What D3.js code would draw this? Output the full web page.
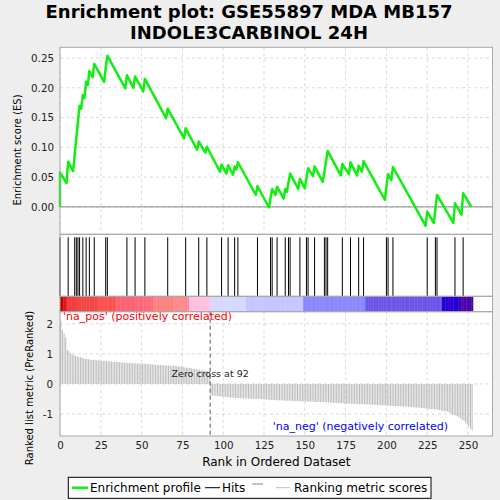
<!DOCTYPE html>
<html><head><meta charset="utf-8">
<script src="https://cdn.jsdelivr.net/npm/d3@7"></script>
<style>html,body{margin:0;padding:0;background:#eeeeee;} svg{display:block;font-family:"DejaVu Sans",sans-serif;}</style>
</head><body>
<svg id="chart" width="500" height="500"></svg>
<script>
const titleLines = ["Enrichment plot: GSE55897 MDA MB157", "INDOLE3CARBINOL 24H"];
const xTicks = [0, 25, 50, 75, 100, 125, 150, 175, 200, 225, 250];
const esTicks = [0, 0.05, 0.10, 0.15, 0.20, 0.25];
const metricTicks = [-1, 0, 1, 2];
const zeroCross = 92;
const hitRanks = [0,5,9,10,11,12,14,16,18,21,28,29,41,46,52,66,77,85,90,99,103,107,109,121,129,130,133,138,140,141,147,151,152,156,162,163,164,173,178,183,186,200,201,204,225,230,231,242,247];
const esRanks = [0,0,4,5,8,9,10,11,12,13,14,15,16,17,18,20,21,27,28,29,40,41,45,46,51,52,65,66,76,77,84,85,89,90,98,99,102,103,106,107,108,109,120,121,128,129,130,132,133,137,138,139,140,141,146,147,150,151,152,155,156,161,162,163,164,172,173,177,178,182,183,185,186,199,200,201,203,204,224,225,229,230,231,241,242,246,247,252];
const esValues = [0,0.058,0.040,0.076,0.060,0.088,0.115,0.143,0.170,0.165,0.188,0.183,0.210,0.205,0.228,0.218,0.240,0.210,0.232,0.254,0.199,0.221,0.200,0.219,0.194,0.215,0.149,0.165,0.115,0.132,0.096,0.110,0.091,0.101,0.059,0.071,0.056,0.070,0.054,0.068,0.063,0.075,0.020,0.035,-0.001,0.015,0.030,0.020,0.034,0.014,0.030,0.025,0.041,0.056,0.030,0.047,0.031,0.048,0.065,0.052,0.068,0.042,0.059,0.076,0.094,0.053,0.072,0.055,0.075,0.053,0.069,0.059,0.077,0.012,0.034,0.055,0.045,0.067,-0.032,-0.008,-0.027,-0.004,0.020,-0.027,0.006,-0.013,0.023,0.000];
const metricValues = [
2.10,1.78,1.68,1.55,1.13,1.08,1.02,0.98,0.95,0.93,
0.91,0.90,0.89,0.87,0.85,0.84,0.83,0.82,0.81,0.80,
0.80,0.79,0.79,0.78,0.78,0.77,0.77,0.76,0.76,0.75,
0.75,0.74,0.74,0.73,0.73,0.72,0.72,0.71,0.71,0.71,
0.70,0.70,0.70,0.69,0.69,0.69,0.69,0.68,0.68,0.68,
0.68,0.67,0.67,0.66,0.66,0.65,0.65,0.64,0.64,0.63,
0.63,0.63,0.62,0.62,0.62,0.61,0.61,0.61,0.60,0.60,
0.60,0.59,0.58,0.58,0.57,0.56,0.55,0.54,0.54,0.53,
0.52,0.51,0.50,0.49,0.48,0.47,0.46,0.45,0.44,0.43,
0.42,0.41,-0.38,-0.39,-0.39,-0.40,-0.40,-0.41,-0.41,-0.42,
-0.42,-0.43,-0.44,-0.44,-0.45,-0.45,-0.46,-0.46,-0.47,-0.47,
-0.47,-0.48,-0.48,-0.48,-0.48,-0.49,-0.49,-0.49,-0.49,-0.50,
-0.50,-0.50,-0.51,-0.51,-0.51,-0.52,-0.52,-0.52,-0.53,-0.53,
-0.53,-0.54,-0.54,-0.54,-0.55,-0.55,-0.55,-0.55,-0.56,-0.56,
-0.56,-0.56,-0.57,-0.57,-0.57,-0.57,-0.58,-0.58,-0.58,-0.58,
-0.58,-0.59,-0.59,-0.59,-0.59,-0.59,-0.60,-0.60,-0.60,-0.60,
-0.60,-0.61,-0.61,-0.61,-0.62,-0.62,-0.62,-0.63,-0.63,-0.63,
-0.64,-0.64,-0.64,-0.64,-0.65,-0.65,-0.65,-0.65,-0.66,-0.66,
-0.66,-0.66,-0.67,-0.67,-0.67,-0.67,-0.68,-0.68,-0.68,-0.68,
-0.69,-0.69,-0.69,-0.70,-0.70,-0.70,-0.71,-0.71,-0.71,-0.72,
-0.72,-0.72,-0.73,-0.73,-0.73,-0.74,-0.74,-0.74,-0.74,-0.75,
-0.75,-0.75,-0.75,-0.76,-0.76,-0.77,-0.77,-0.78,-0.78,-0.79,
-0.79,-0.80,-0.80,-0.81,-0.81,-0.82,-0.83,-0.83,-0.84,-0.85,
-0.85,-0.86,-0.87,-0.88,-0.89,-0.90,-0.91,-0.92,-0.95,-0.98,
-1.01,-1.03,-1.05,-1.08,-1.11,-1.15,-1.19,-1.23,-1.28,-1.35,
-1.41,-1.48,-1.55];
const bandStarts = [0,2,4,11,23,34,46,57,69,79,92,114,149,187,234,245];
const bandColors = ["#c80000","#e01818","#f03c3c","#f24646","#ff5050","#ff6072","#ff6878","#ff8080","#ff8a8a","#ffc0e2","#d8d8fe","#c8c4ff","#8888ff","#6a56ea","#2600d0","#4a06a8"];
const legendItems = ["Enrichment profile", "Hits", "Ranking metric scores"];

const svg = d3.select("#chart");
const L = 60, R = 492.5;
const topY0 = 47.3, topY1 = 234.3, hitY1 = 296.3, barY1 = 311.7, botY1 = 436;
const N = metricValues.length;

const x = d3.scaleLinear().domain([0, 265]).range([L, R]);
const yES = d3.scaleLinear().domain([-0.046, 0.268]).range([topY1, topY0]);
const yM = d3.scaleLinear().domain([-1.73, 2.4]).range([botY1, barY1]);

// background panels
svg.append("rect").attr("width", 500).attr("height", 500).attr("fill", "#eeeeee");
svg.append("rect").attr("x", L).attr("y", topY0).attr("width", R - L).attr("height", botY1 - topY0).attr("fill", "#ffffff");

// title
svg.append("g").selectAll("text").data(titleLines).join("text")
  .attr("x", 249).attr("y", (d, i) => 18 + i * 21)
  .attr("text-anchor", "middle").attr("font-size", 18).attr("font-weight", "bold").attr("fill", "#000")
  .text(d => d);

const gridColor = "#d9d9d9";
// top grid
const gTop = svg.append("g");
gTop.selectAll("line.v").data(xTicks).join("line").attr("class", "v")
  .attr("x1", d => x(d)).attr("x2", d => x(d)).attr("y1", topY0).attr("y2", topY1)
  .attr("stroke", gridColor).attr("stroke-dasharray", "3,3");
gTop.selectAll("line.h").data(esTicks).join("line").attr("class", "h")
  .attr("x1", L).attr("x2", R).attr("y1", d => yES(d)).attr("y2", d => yES(d))
  .attr("stroke", gridColor).attr("stroke-dasharray", "3,3");
gTop.append("line").attr("x1", L).attr("x2", R).attr("y1", yES(0)).attr("y2", yES(0)).attr("stroke", "#888").attr("stroke-width", 1);

// ES curve
const esPts = esRanks.map((r, i) => [r, esValues[i]]);
svg.append("path").datum(esPts)
  .attr("d", d3.line().x(d => x(d[0])).y(d => yES(d[1])))
  .attr("fill", "none").attr("stroke", "#11ee11").attr("stroke-width", 2.5).attr("stroke-linejoin", "round");

// hits
svg.append("g").selectAll("line").data(hitRanks).join("line")
  .attr("x1", d => x(d)).attr("x2", d => x(d)).attr("y1", 237.3).attr("y2", hitY1)
  .attr("stroke", "#000").attr("stroke-width", 1);

// color bar
function bandColor(r) {
  let c = bandColors[0];
  bandStarts.forEach((s, i) => { if (r >= s) c = bandColors[i]; });
  return c;
}
svg.append("g").selectAll("rect").data(d3.range(N)).join("rect")
  .attr("x", d => x(d)).attr("width", d => x(d + 1) - x(d) + 0.4)
  .attr("y", hitY1).attr("height", barY1 - hitY1)
  .attr("fill", d => bandColor(d));

// bottom grid
const gBot = svg.append("g");
gBot.selectAll("line.v").data(xTicks).join("line").attr("class", "v")
  .attr("x1", d => x(d)).attr("x2", d => x(d)).attr("y1", barY1).attr("y2", botY1)
  .attr("stroke", gridColor).attr("stroke-dasharray", "3,3");
gBot.selectAll("line.h").data(metricTicks).join("line").attr("class", "h")
  .attr("x1", L).attr("x2", R).attr("y1", d => yM(d)).attr("y2", d => yM(d))
  .attr("stroke", gridColor).attr("stroke-dasharray", "3,3");

// metric bars
svg.append("g").selectAll("rect").data(metricValues).join("rect")
  .attr("x", (d, i) => x(i) + 0.3).attr("width", 1.05)
  .attr("y", d => Math.min(yM(d), yM(0))).attr("height", d => Math.abs(yM(d) - yM(0)))
  .attr("fill", "#bdbdbd");

// zero cross
svg.append("line").attr("x1", x(zeroCross)).attr("x2", x(zeroCross)).attr("y1", barY1).attr("y2", botY1)
  .attr("stroke", "#555").attr("stroke-dasharray", "4,3");
svg.append("text").attr("x", x(zeroCross)).attr("y", 377).attr("text-anchor", "middle")
  .attr("font-size", 9.5).attr("fill", "#222").text("Zero cross at " + zeroCross);

svg.append("text").attr("x", 63).attr("y", 320).attr("font-size", 11).attr("fill", "#ff0000")
  .text("'na_pos' (positively correlated)");
svg.append("text").attr("x", 448).attr("y", 430).attr("text-anchor", "end").attr("font-size", 11).attr("fill", "#0000ff")
  .text("'na_neg' (negatively correlated)");

// panel borders
const border = "#a8a8a8";
[[topY0, topY1], [topY1, hitY1], [hitY1, barY1], [barY1, botY1]].forEach(([a, b]) => {
  svg.append("rect").attr("x", L).attr("y", a).attr("width", R - L).attr("height", b - a)
    .attr("fill", "none").attr("stroke", border).attr("stroke-width", 1);
});

// axes
const axES = svg.append("g").attr("transform", `translate(${L},0)`)
  .call(d3.axisLeft(yES).tickValues(esTicks).tickFormat(d3.format(".2f")).tickSize(0).tickPadding(6));
const axM = svg.append("g").attr("transform", `translate(${L},0)`)
  .call(d3.axisLeft(yM).tickValues(metricTicks).tickFormat(d => String(d)).tickSize(0).tickPadding(7));
const axX = svg.append("g").attr("transform", `translate(0,${botY1})`)
  .call(d3.axisBottom(x).tickValues(xTicks).tickFormat(d => String(d)).tickSize(0).tickPadding(6));
[axES, axM, axX].forEach(g => {
  g.select(".domain").remove();
  g.selectAll("text").attr("font-size", 10.3).attr("font-family", "DejaVu Sans, sans-serif").attr("fill", "#222");
});

// axis labels
svg.append("text").attr("transform", "translate(21,150) rotate(-90)").attr("text-anchor", "middle")
  .attr("font-size", 10).attr("fill", "#000").text("Enrichment score (ES)");
svg.append("text").attr("transform", "translate(33,388) rotate(-90)").attr("text-anchor", "middle")
  .attr("font-size", 10).attr("fill", "#000").text("Ranked list metric (PreRanked)");
svg.append("text").attr("x", (L + R) / 2).attr("y", 465.5).attr("text-anchor", "middle")
  .attr("font-size", 12).attr("fill", "#000").text("Rank in Ordered Dataset");

// legend
const lg = svg.append("g");
lg.append("rect").attr("x", 68.3).attr("y", 477.3).attr("width", 362.7).attr("height", 21)
  .attr("fill", "#fff").attr("stroke", "#000").attr("stroke-width", 1);
const ly = 487.7;
lg.append("line").attr("x1", 72).attr("x2", 88).attr("y1", ly).attr("y2", ly).attr("stroke", "#11ee11").attr("stroke-width", 2.5);
lg.append("text").attr("x", 90).attr("y", ly + 4.3).attr("font-size", 12).text(legendItems[0]);
lg.append("line").attr("x1", 205).attr("x2", 220).attr("y1", ly).attr("y2", ly).attr("stroke", "#000").attr("stroke-width", 1);
lg.append("text").attr("x", 222).attr("y", ly + 4.3).attr("font-size", 12).text(legendItems[1]);
lg.append("line").attr("x1", 252).attr("x2", 263).attr("y1", 484).attr("y2", 484).attr("stroke", "#888").attr("stroke-width", 1);
lg.append("line").attr("x1", 276).attr("x2", 290).attr("y1", ly).attr("y2", ly).attr("stroke", "#c0c0c0").attr("stroke-width", 1);
lg.append("text").attr("x", 294).attr("y", ly + 4.3).attr("font-size", 12).text(legendItems[2]);
</script>
</body></html>
